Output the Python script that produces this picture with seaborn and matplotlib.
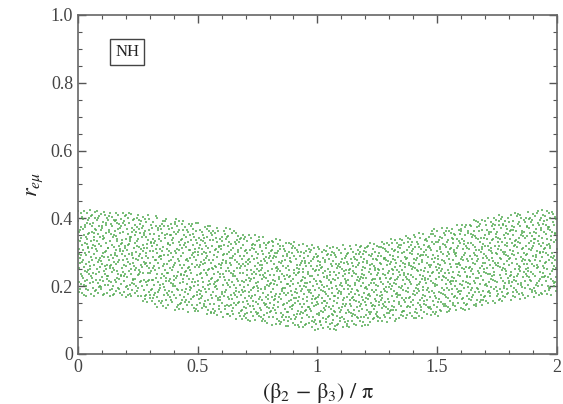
import numpy as np
import pandas as pd
import matplotlib
matplotlib.use("Agg")
import matplotlib.pyplot as plt
import seaborn as sns
from matplotlib.ticker import MultipleLocator

# Envelope of the allowed region of r_{e mu} versus (beta2 - beta3)/pi
phase_knots = [0.0, 0.25, 0.3, 0.5, 0.75, 1.0, 1.1, 1.25, 1.5, 1.75, 2.0]
r_lower = [0.17, 0.165, 0.14, 0.12, 0.09, 0.07, 0.07, 0.09, 0.11, 0.15, 0.175]
r_upper = [0.43, 0.415, 0.41, 0.39, 0.35, 0.32, 0.32, 0.33, 0.37, 0.41, 0.43]

x_ticks = [0, 0.5, 1, 1.5, 2]
x_tick_labels = ["0", "0.5", "1", "1.5", "2"]
y_ticks = [0, 0.2, 0.4, 0.6, 0.8, 1.0]
y_tick_labels = ["0", "0.2", "0.4", "0.6", "0.8", "1.0"]

n_scan = 2600


def van_der_corput(n, base):
    seq = np.zeros(n)
    for i in range(n):
        f, k, v = 1.0, i + 1, 0.0
        while k > 0:
            f /= base
            v += f * (k % base)
            k //= base
        seq[i] = v
    return seq


# Scan points spread evenly over the allowed band
u = van_der_corput(n_scan, 2)
w = van_der_corput(n_scan, 3)
phase = 2.0 * u
lo = np.interp(phase, phase_knots, r_lower)
hi = np.interp(phase, phase_knots, r_upper)
scan = pd.DataFrame({"phase": phase, "r": lo + w * (hi - lo)})

sns.set_style("ticks")
plt.rcParams["font.family"] = ["Liberation Serif", "DejaVu Serif"]
plt.rcParams["mathtext.fontset"] = "stix"

fig = plt.figure(figsize=(5.63, 4.04), dpi=100)
ax = fig.add_axes([0.1385, 0.124, 0.8505, 0.839])

sns.scatterplot(data=scan, x="phase", y="r", ax=ax, s=2.4, marker="s",
                color="#4fa84f", linewidth=0, alpha=0.75, legend=False)

ax.set_xlim(0, 2)
ax.set_ylim(0, 1.0)
ax.set_xticks(x_ticks)
ax.set_xticklabels(x_tick_labels)
ax.set_yticks(y_ticks)
ax.set_yticklabels(y_tick_labels)
ax.xaxis.set_minor_locator(MultipleLocator(0.1))
ax.yaxis.set_minor_locator(MultipleLocator(0.05))
ax.tick_params(which="both", direction="in", top=True, right=True,
               color="#555555", labelsize=13, labelcolor="#444444")
ax.tick_params(which="major", length=6, width=1.0)
ax.tick_params(which="minor", length=3, width=0.8)
for sp in ax.spines.values():
    sp.set_color("#666666")
    sp.set_linewidth(1.2)

ax.set_xlabel(r"$\mathrm{(\beta_2\,-\,\beta_3)\ /\ \pi}$", fontsize=16, color="#222222")
ax.set_ylabel(r"$r_{e\mu}$", fontsize=16, color="#222222")

ax.text(0.205, 0.89, "NH", fontsize=12, ha="center", va="center", color="#222222",
        bbox=dict(boxstyle="square,pad=0.3", fc="white", ec="#444444", lw=1.0))

fig.savefig("out.png", dpi=100)
